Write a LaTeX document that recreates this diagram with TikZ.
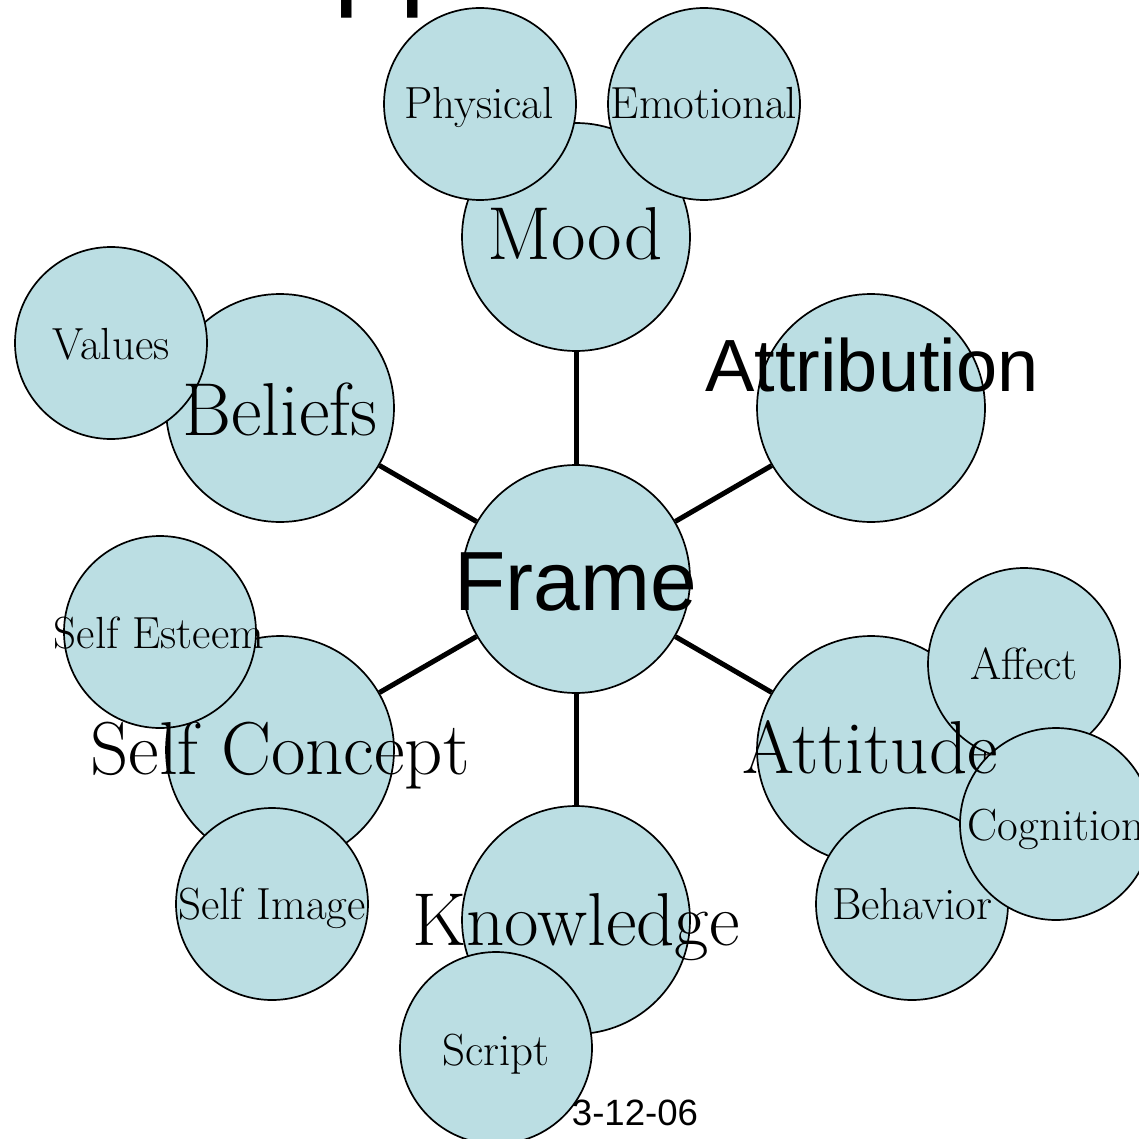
\documentclass[tikz,border=0pt]{standalone}
\usepackage{fontspec}
\newfontfamily\arialf{Liberation Sans}
\definecolor{bubble}{RGB}{187,222,227}
\tikzset{
  bigc/.style={circle,draw=black,line width=1.7pt,fill=bubble,minimum size=228pt,inner sep=0pt},
  smallc/.style={circle,draw=black,line width=1.7pt,fill=bubble,minimum size=192pt,inner sep=0pt},
  conn/.style={line width=5pt,black},
  bigt/.style={anchor=base,inner sep=0pt,font=\fontsize{75}{75}\selectfont},
  smallt/.style={anchor=base,inner sep=0pt,font=\fontsize{45}{45}\selectfont},
  sanst/.style={anchor=base,inner sep=0pt},
}
\begin{document}
\begin{tikzpicture}[x=1pt,y=-1pt]
\useasboundingbox (0,0) rectangle (1138,1139);
% circles
\node[bigc] (frame) at (576,579) {};
\node[bigc] (mood) at (576,237) {};
\node[smallc] (physical) at (480,104) {};
\node[smallc] (emotional) at (704,104) {};
\node[bigc] (attribution) at (871,408) {};
\node[bigc] (beliefs) at (280,408) {};
\node[smallc] (values) at (111,343) {};
\node[bigc] (selfconcept) at (280,750) {};
\node[smallc] (selfesteem) at (160,632) {};
\node[smallc] (selfimage) at (272,904) {};
\node[bigc] (knowledge) at (576,920) {};
\node[smallc] (script) at (496,1048) {};
\node[bigc] (attitude) at (871,750) {};
\node[smallc] (affect) at (1024,664) {};
\node[smallc] (behavior) at (912,904) {};
\node[smallc] (cognition) at (1056,824) {};
% connectors
\draw[conn] (frame) -- (mood);
\draw[conn] (frame) -- (attribution);
\draw[conn] (frame) -- (beliefs);
\draw[conn] (frame) -- (selfconcept);
\draw[conn] (frame) -- (knowledge);
\draw[conn] (frame) -- (attitude);
% texts
\node[sanst,font=\arialf\fontsize{119}{119}\selectfont,anchor=base west] (title) at (333,-6) {pp};
\node[smallt] (tphysical) at (479,119) {Physical};
\node[smallt] (temotional) at (704,119) {Emotional};
\node[bigt] (tmood) at (575,260) {Mood};
\node[smallt] (tvalues) at (111,359) {Values};
\node[bigt] (tbeliefs) at (280,435) {Beliefs};
\node[sanst,font=\arialf\fontsize{74}{74}\selectfont] (tattribution) at (872,391) {Attribution};
\node[sanst,font=\arialf\fontsize{84}{84}\selectfont] (tframe) at (576,610) {Frame};
\node[smallt] (tselfesteem) at (159,648) {Self Esteem};
\node[bigt] (tselfconcept) at (280,774) {Self Concept};
\node[bigt] (tattitude) at (870,773) {Attitude};
\node[smallt] (taffect) at (1024,679) {Affect};
\node[smallt] (tcognition) at (1056,840) {Cognition};
\node[smallt] (tselfimage) at (272,919) {Self Image};
\node[smallt] (tbehavior) at (912,919) {Behavior};
\node[bigt] (tknowledge) at (576,945) {Knowledge};
\node[smallt] (tscript) at (496,1065) {Script};
\node[sanst,font=\arialf\fontsize{36.6}{36.6}\selectfont] (tdate) at (635,1125) {3-12-06};
\end{tikzpicture}
\end{document}
